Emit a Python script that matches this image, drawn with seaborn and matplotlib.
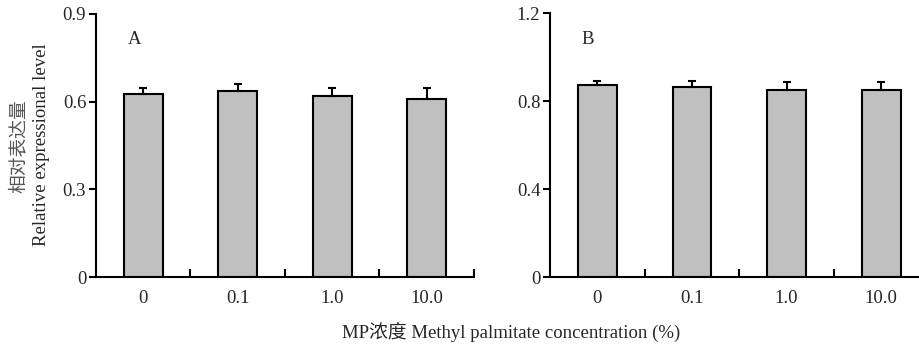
import numpy as np
import pandas as pd
import seaborn as sns
import matplotlib.pyplot as plt
from matplotlib.ticker import FixedLocator

# Data
conc = ['0', '0.1', '1.0', '10.0']
level_a = [0.627, 0.638, 0.620, 0.608]
err_a = [0.021, 0.023, 0.028, 0.040]
level_b = [0.874, 0.865, 0.853, 0.850]
err_b = [0.018, 0.027, 0.033, 0.036]

sns.set_style('white')
plt.rcParams['font.family'] = ['Liberation Serif', 'Noto Sans CJK SC']
plt.rcParams['font.size'] = 13.5

fig = plt.figure(figsize=(9.2, 3.48), dpi=100)
ax_a = fig.add_axes([0.1043, 0.204, 0.4109, 0.756])
ax_b = fig.add_axes([0.5978, 0.204, 0.4022, 0.758])


def draw_panel(ax, vals, errs, ymax, yticks, xmax, letter):
    df = pd.DataFrame({'conc': conc, 'level': vals})
    sns.barplot(data=df, x='conc', y='level', ax=ax, color='#c0c0c0',
                saturation=1, width=0.41, edgecolor='black', linewidth=1.5,
                errorbar=None)
    x = np.arange(len(conc))
    ax.errorbar(x, vals, yerr=[np.zeros(len(errs)), errs], fmt='none',
                ecolor='black', elinewidth=1.5, capsize=3, capthick=1.5)
    ax.set_xlim(-0.5, xmax)
    ax.set_ylim(0, ymax)
    ax.set_yticks(yticks)
    ax.set_yticklabels(['0' if t == 0 else f'{t:.1f}' for t in yticks])
    ax.xaxis.set_minor_locator(FixedLocator([0.5, 1.5, 2.5, 3.5]))
    ax.tick_params(axis='x', which='major', length=0, pad=9, labelsize=13.5)
    ax.tick_params(axis='x', which='minor', direction='in', length=6,
                   width=1.5, color='black', bottom=True)
    ax.tick_params(axis='y', direction='out', length=5, width=1.5,
                   color='black', left=True, labelsize=13.5, pad=2)
    for s in ['top', 'right']:
        ax.spines[s].set_visible(False)
    for s in ['left', 'bottom']:
        ax.spines[s].set_linewidth(1.5)
        ax.spines[s].set_color('black')
    ax.set_xlabel('')
    ax.set_ylabel('')
    ax.text(0.085, 0.885, letter, transform=ax.transAxes, fontsize=13.5)


draw_panel(ax_a, level_a, err_a, 0.9, [0, 0.3, 0.6, 0.9], 3.5, 'A')
draw_panel(ax_b, level_b, err_b, 1.2, [0, 0.4, 0.8, 1.2], 3.41, 'B')

fig.text(18 / 920, 1 - 146 / 348, '相对表达量', rotation=90, ha='center',
         va='center', fontsize=13.5, color='#555555',
         family=['Noto Sans CJK SC', 'DejaVu Sans'])
fig.text(42 / 920, 1 - 145 / 348, 'Relative expressional level', rotation=90,
         ha='center', va='center', fontsize=13.5)
fig.text(511 / 920, 1 - 333 / 348, 'MP浓度 Methyl palmitate concentration (%)',
         ha='center', va='center', fontsize=13.5)

fig.savefig('out.png', dpi=100)
